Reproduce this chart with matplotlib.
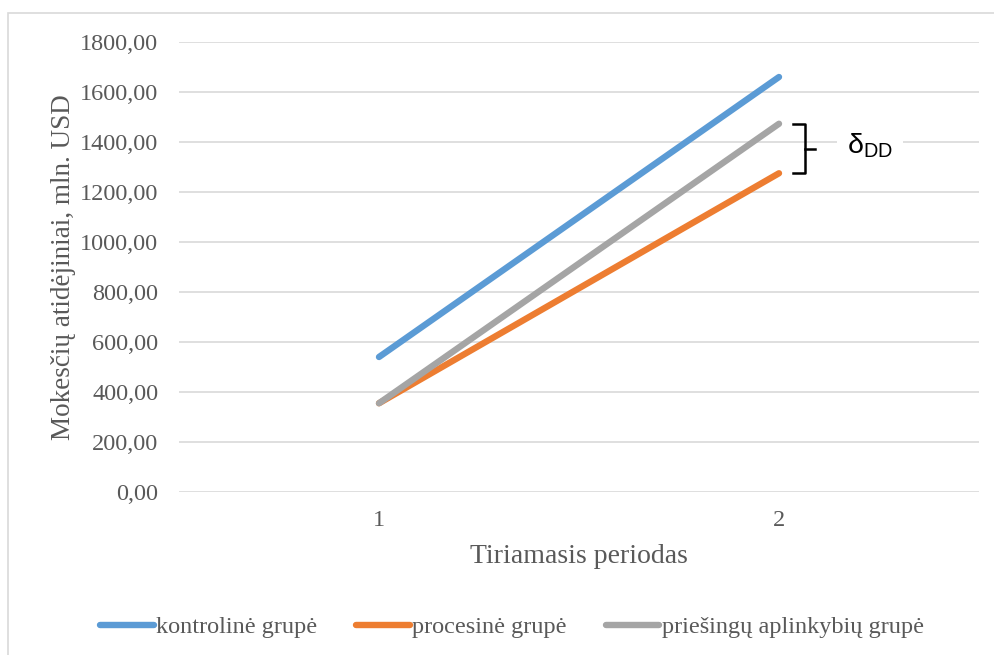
import matplotlib
matplotlib.use("Agg")
import matplotlib.pyplot as plt
from matplotlib.patches import Rectangle

# data
periods = ["1", "2"]
kontroline = [540.0, 1660.0]
procesine = [355.0, 1275.0]
priesingu = [355.0, 1473.0]
series_names = ["kontrolinė grupė", "procesinė grupė", "priešingų aplinkybių grupė"]
y_ticks = [0, 200, 400, 600, 800, 1000, 1200, 1400, 1600, 1800]

plt.rcParams['font.family'] = ['Liberation Serif', 'DejaVu Serif']
plt.rcParams['mathtext.fontset'] = 'custom'
plt.rcParams['mathtext.rm'] = 'Liberation Sans'

txt_col = '#595959'
grid_col = '#d9d9d9'

fig = plt.figure(figsize=(9.94, 6.55), dpi=100)
ax = fig.add_axes([179/994, 1 - 492/655, 800/994, 450/655])

x = [1, 2]
ax.plot(x, kontroline, color='#5B9BD5', lw=4.6, solid_capstyle='round', label=series_names[0], zorder=3)
ax.plot(x, procesine, color='#ED7D31', lw=4.6, solid_capstyle='round', label=series_names[1], zorder=3)
ax.plot(x, priesingu, color='#A5A5A5', lw=4.6, solid_capstyle='round', label=series_names[2], zorder=3)

ax.set_xlim(0.5, 2.5)
ax.set_ylim(0, 1800)
ax.set_xticks(x)
ax.set_xticklabels(periods)
ax.set_yticks(y_ticks)
ax.set_yticklabels([f"{v:.2f}".replace(".", ",") for v in y_ticks])
ax.grid(axis='y', color=grid_col, lw=1.2)
ax.set_axisbelow(True)
for s in ax.spines.values():
    s.set_visible(False)
ax.tick_params(length=0, labelsize=17.5, labelcolor=txt_col)
ax.tick_params(axis='y', pad=15)
ax.tick_params(axis='x', pad=13)

ax.set_xlabel("Tiriamasis periodas", fontsize=20, color=txt_col, labelpad=9)
ax.set_ylabel("Mokesčių atidėjiniai, mln. USD", fontsize=19.5, color=txt_col, labelpad=3)

# brace between the gray and orange end points
lo, hi = procesine[-1], priesingu[-1]
mid = (lo + hi) / 2
bx0, bx1 = 2.035, 2.065
ax.plot([bx0, bx1, bx1, bx0], [hi, hi, lo, lo], color='black', lw=1.8,
        solid_joinstyle='round', clip_on=False, zorder=4)
ax.plot([bx1, 2.09], [mid, mid], color='black', lw=1.8, clip_on=False, zorder=4)
ax.text(2.17, mid + 12, r'δ$_{\mathrm{DD}}$', fontsize=20.5, family=['Liberation Sans'],
        va='center', ha='left', zorder=4,
        bbox=dict(facecolor='white', edgecolor='none', pad=7))

fig.legend(loc='center', bbox_to_anchor=(512/994, 1 - 627/655), ncol=3, frameon=False,
           fontsize=17.5, labelcolor=txt_col, handlelength=2.2, handletextpad=0.1,
           columnspacing=1.6)

fig.patches.append(Rectangle((8/994, -0.1), 2, (655 - 13)/655 + 0.1, transform=fig.transFigure,
                             fill=False, edgecolor=grid_col, lw=1.2))

fig.savefig("out.png", dpi=100)
